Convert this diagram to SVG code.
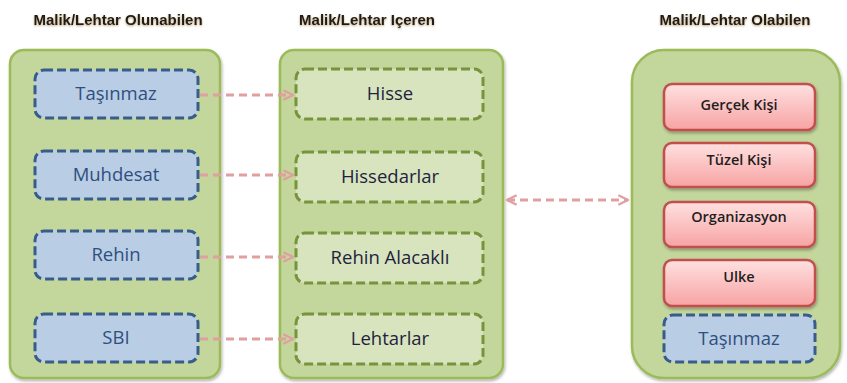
<svg xmlns="http://www.w3.org/2000/svg" width="847" height="383" viewBox="0 0 847 383">
<defs>
<linearGradient id="redg" x1="0" y1="0" x2="0" y2="1">
<stop offset="0" stop-color="#ffe0e0"/>
<stop offset="1" stop-color="#f7a3a3"/>
</linearGradient>
<filter id="sh" x="-10%" y="-10%" width="130%" height="140%">
<feDropShadow dx="1" dy="2" stdDeviation="1.5" flood-color="#000" flood-opacity="0.3"/>
</filter>
<filter id="tsh" x="-5%" y="-30%" width="110%" height="170%">
<feDropShadow dx="0" dy="1" stdDeviation="1" flood-color="#8a5a10" flood-opacity="0.6"/>
</filter>
<marker id="ah" viewBox="0 0 10 10" refX="9" refY="5" markerWidth="4" markerHeight="4" orient="auto-start-reverse" markerUnits="strokeWidth">
<path d="M1,1 L9,5 L1,9" fill="none" stroke="#e0a0a0" stroke-width="2"/>
</marker>
</defs>
<style>
.hdr{font-family:"Liberation Sans",Arial,sans-serif;font-size:15px;font-weight:bold;fill:#1a1a1a;text-anchor:middle}
.cont{fill:#c3d69b;stroke:#9bbb59;stroke-width:2.5}
.blue{fill:#b9cde5;stroke:#385d8a;stroke-width:3;stroke-dasharray:9,4}
.grn{fill:#d7e4bd;stroke:#77933c;stroke-width:3;stroke-dasharray:9,4}
.red{fill:url(#redg);stroke:#c0504d;stroke-width:2.5}
.bt{font-family:"Open Sans","Liberation Sans",sans-serif;font-size:18.5px;fill:#2f4f7f;text-anchor:middle}
.gt{font-family:"Open Sans","Liberation Sans",sans-serif;font-size:18.5px;fill:#1f1f3f;text-anchor:middle}
.rt{font-family:"Open Sans","Liberation Sans",sans-serif;font-size:14.5px;font-weight:600;fill:#1f1f1f;text-anchor:middle}
.conn{fill:none;stroke:#e0a0a0;stroke-width:3;stroke-dasharray:8,5;marker-end:url(#ah)}
</style>
<g id="headers">
<text class="hdr" x="118" y="25" filter="url(#tsh)">Malik/Lehtar Olunabilen</text>
<text class="hdr" x="367" y="25" filter="url(#tsh)">Malik/Lehtar Içeren</text>
<text class="hdr" x="735" y="25" filter="url(#tsh)">Malik/Lehtar Olabilen</text>
</g>
<g id="c-left"><rect class="cont" x="10" y="50" width="210" height="328" rx="14" filter="url(#sh)"/></g>
<g id="c-mid"><rect class="cont" x="280" y="50" width="223" height="328" rx="14" filter="url(#sh)"/></g>
<g id="c-right"><rect class="cont" x="632" y="50" width="208" height="328" rx="32" filter="url(#sh)"/></g>
<g id="n-tasinmaz"><rect class="blue" x="35" y="70" width="163" height="48" rx="9"/><text class="bt" x="116" y="100">Taşınmaz</text></g>
<g id="n-muhdesat"><rect class="blue" x="35" y="151" width="163" height="48" rx="9"/><text class="bt" x="116" y="181">Muhdesat</text></g>
<g id="n-rehin"><rect class="blue" x="35" y="231" width="163" height="48" rx="9"/><text class="bt" x="116" y="261">Rehin</text></g>
<g id="n-sbi"><rect class="blue" x="35" y="314" width="163" height="48" rx="9"/><text class="bt" x="116" y="344">SBI</text></g>
<g id="n-hisse"><rect class="grn" x="296" y="69" width="187" height="50" rx="9"/><text class="gt" x="390" y="100">Hisse</text></g>
<g id="n-hissedarlar"><rect class="grn" x="296" y="152" width="187" height="50" rx="9"/><text class="gt" x="390" y="183">Hissedarlar</text></g>
<g id="n-rehinalacakli"><rect class="grn" x="296" y="233" width="187" height="50" rx="9"/><text class="gt" x="390" y="264">Rehin Alacaklı</text></g>
<g id="n-lehtarlar"><rect class="grn" x="296" y="314" width="187" height="50" rx="9"/><text class="gt" x="390" y="345">Lehtarlar</text></g>
<g id="n-gercek"><rect class="red" x="664" y="84" width="151" height="46" rx="8" filter="url(#sh)"/><text class="rt" x="739" y="110">Gerçek Kişi</text></g>
<g id="n-tuzel"><rect class="red" x="664" y="143" width="151" height="44" rx="8" filter="url(#sh)"/><text class="rt" x="739" y="165">Tüzel Kişi</text></g>
<g id="n-org"><rect class="red" x="664" y="202" width="151" height="45" rx="8" filter="url(#sh)"/><text class="rt" x="739" y="222">Organizasyon</text></g>
<g id="n-ulke"><rect class="red" x="664" y="260" width="151" height="46" rx="8" filter="url(#sh)"/><text class="rt" x="739" y="282">Ulke</text></g>
<g id="n-tasinmaz2"><rect class="blue" x="664" y="315" width="151" height="47" rx="9"/><text class="bt" x="739" y="345">Taşınmaz</text></g>
<g id="connectors">
<line class="conn" x1="200" y1="95" x2="293" y2="95"/>
<line class="conn" x1="200" y1="175" x2="293" y2="175"/>
<line class="conn" x1="200" y1="257" x2="293" y2="257"/>
<line class="conn" x1="200" y1="339" x2="293" y2="339"/>
<line class="conn" x1="507" y1="200" x2="628" y2="200" marker-start="url(#ah)"/>
</g>
</svg>
